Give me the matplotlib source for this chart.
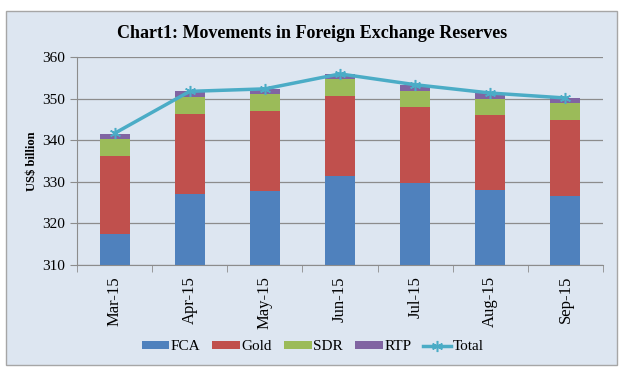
import numpy as np
import matplotlib.pyplot as plt
from matplotlib.patches import Rectangle

months = ["Mar-15", "Apr-15", "May-15", "Jun-15", "Jul-15", "Aug-15", "Sep-15"]
fca = [317.4, 327.1, 327.7, 331.4, 329.8, 328.0, 326.7]
gold = [18.9, 19.2, 19.3, 19.2, 18.2, 18.0, 18.1]
sdr = [4.0, 4.1, 4.1, 4.1, 4.0, 4.0, 4.1]
rtp = [1.3, 1.4, 1.3, 1.3, 1.4, 1.4, 1.3]
total = [341.7, 351.8, 352.4, 356.0, 353.4, 351.4, 350.2]

BG = "#dde6f1"
SERIF = "Liberation Serif"

fig = plt.figure(figsize=(6.25, 3.73), dpi=100)
fig.patch.set_facecolor("white")
fig.patches.append(Rectangle((6 / 625, 1 - 365 / 373), 611 / 625, 354 / 373,
                             transform=fig.transFigure, facecolor=BG,
                             edgecolor="#a6a6a6", linewidth=1, zorder=-5))

ax = fig.add_axes([77 / 625, 1 - 265 / 373, 526 / 625, 207.7 / 373])
ax.set_facecolor(BG)

x = np.arange(len(months))
w = 0.4
b1 = np.array(fca)
b2 = b1 + np.array(gold)
b3 = b2 + np.array(sdr)
h1 = ax.bar(x, fca, w, color="#4f81bd", label="FCA", zorder=2)
h2 = ax.bar(x, gold, w, bottom=b1, color="#c0504d", label="Gold", zorder=2)
h3 = ax.bar(x, sdr, w, bottom=b2, color="#9bbb59", label="SDR", zorder=2)
h4 = ax.bar(x, rtp, w, bottom=b3, color="#8064a2", label="RTP", zorder=2)
h5, = ax.plot(x, total, color="#4bacc6", lw=2.5, marker=(6, 2, 0), ms=8, mew=1.1,
              label="Total", zorder=3)

ax.set_xlim(-0.5, len(months) - 0.5)
ax.set_ylim(310, 360)
ax.set_yticks(range(310, 361, 10))
ax.yaxis.grid(True, color="#8c8c8c", lw=0.9, zorder=1)
ax.set_xticks(x)
ax.set_xticklabels(months, rotation=90, family=SERIF, fontsize=12)
ax.set_xticks(np.arange(-0.5, len(months)), minor=True)
ax.tick_params(axis="x", which="major", length=0, pad=8)
ax.tick_params(axis="x", which="minor", length=5, color="#8c8c8c")
ax.tick_params(axis="y", length=5, color="#8c8c8c", labelsize=11)
for t in ax.get_yticklabels():
    t.set_family(SERIF)
for s in ["top", "right"]:
    ax.spines[s].set_visible(False)
for s in ["left", "bottom"]:
    ax.spines[s].set_color("#8c8c8c")

ax.set_ylabel("US$ billion", family=SERIF, fontsize=9, fontweight="bold", labelpad=3)

fig.text(0.5, 1 - 33 / 373, "Chart1: Movements in Foreign Exchange Reserves",
         ha="center", va="center", family=SERIF, fontsize=13, fontweight="bold")

fig.legend([h1, h2, h3, h4, h5], ["FCA", "Gold", "SDR", "RTP", "Total"],
           loc="center", bbox_to_anchor=(0.5, 1 - 347 / 373), ncol=5,
           frameon=False, prop={"family": SERIF, "size": 11},
           handlelength=1.8, handleheight=0.5, columnspacing=0.8,
           handletextpad=0.1)

fig.savefig("out.png", dpi=100, facecolor="white")
